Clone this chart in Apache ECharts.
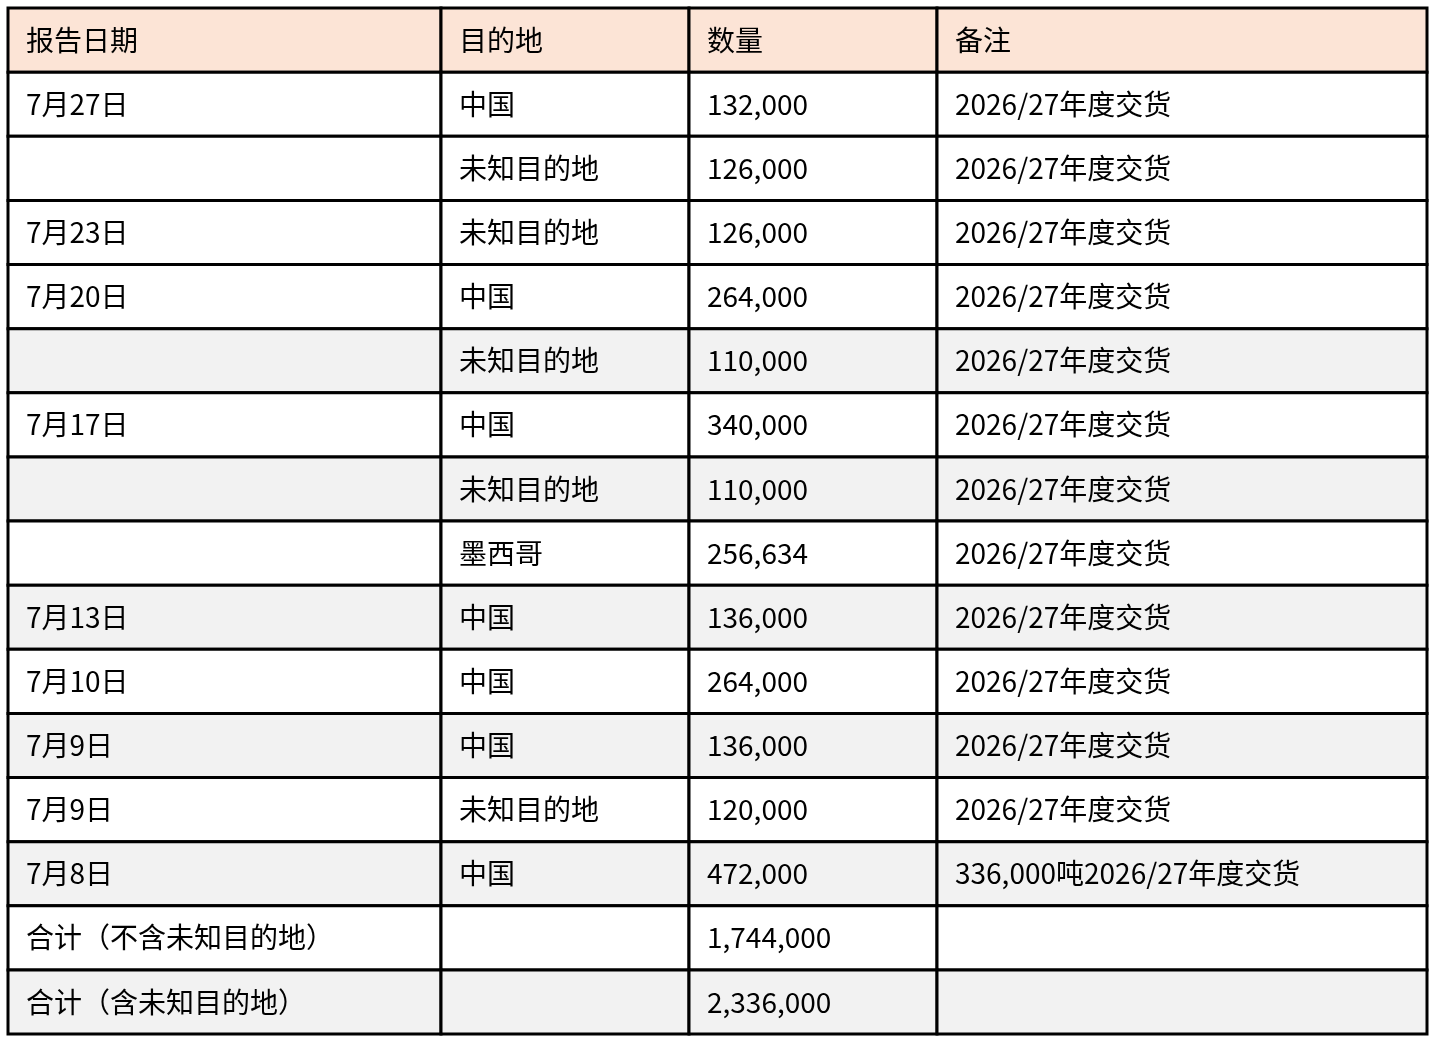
<!DOCTYPE html>
<html><head><meta charset="utf-8">
<script src="https://cdn.jsdelivr.net/npm/echarts@6/dist/echarts.min.js"></script>
<style>html,body{margin:0;padding:0;background:#fff}#c{width:1438px;height:1046px}</style>
</head><body><div id="c"></div>
<script>
const headers = ['报告日期','目的地','数量','备注'];
const dates = ['7月27日','','7月23日','7月20日','','7月17日','','','7月13日','7月10日','7月9日','7月9日','7月8日','合计（不含未知目的地）','合计（含未知目的地）'];
const destinations = ['中国','未知目的地','未知目的地','中国','未知目的地','中国','未知目的地','墨西哥','中国','中国','中国','未知目的地','中国','',''];
const quantities = ['132,000','126,000','126,000','264,000','110,000','340,000','110,000','256,634','136,000','264,000','136,000','120,000','472,000','1,744,000','2,336,000'];
const notes = ['2026/27年度交货','2026/27年度交货','2026/27年度交货','2026/27年度交货','2026/27年度交货','2026/27年度交货','2026/27年度交货','2026/27年度交货','2026/27年度交货','2026/27年度交货','2026/27年度交货','2026/27年度交货','336,000吨2026/27年度交货','',''];
const shaded = [false,false,false,false,true,false,true,false,true,false,true,false,true,false,true];

// layout
const colEdges = [8,441,689,937,1427];
const top0 = 8, rowH = 64.125;
const cells = [];
headers.forEach((h,c)=>cells.push([c,0,h,'head']));
const cols=[dates,destinations,quantities,notes];
for(let r=0;r<dates.length;r++){for(let c=0;c<4;c++)cells.push([c,r+1,cols[c][r],shaded[r]?'grey':'white']);}
const fills={head:'#fce4d6',grey:'#f2f2f2',white:'#ffffff'};
const chart=echarts.init(document.getElementById('c'));
chart.setOption({
  animation:false,
  grid:{left:0,right:0,top:0,bottom:0},
  xAxis:{type:'value',min:0,max:1438,show:false},
  yAxis:{type:'value',min:0,max:1046,inverse:true,show:false},
  series:[{type:'custom',data:cells,clip:false,
    renderItem:(params,api)=>{
      const c=api.value(0), r=api.value(1), d=cells[params.dataIndex];
      const p0=api.coord([colEdges[c], top0+r*rowH]);
      const p1=api.coord([colEdges[c+1], top0+(r+1)*rowH]);
      return {type:'group',children:[
        {type:'rect',shape:{x:p0[0],y:p0[1],width:p1[0]-p0[0],height:p1[1]-p0[1]},
          style:{fill:fills[d[3]],stroke:'#000',lineWidth:3}},
        {type:'text',style:{x:p0[0]+18,y:(p0[1]+p1[1])/2,text:d[2],fill:'#000',
          font:'28px "Noto Sans CJK SC"',verticalAlign:'middle',align:'left'}}
      ]};
    }}]
});
</script></body></html>
